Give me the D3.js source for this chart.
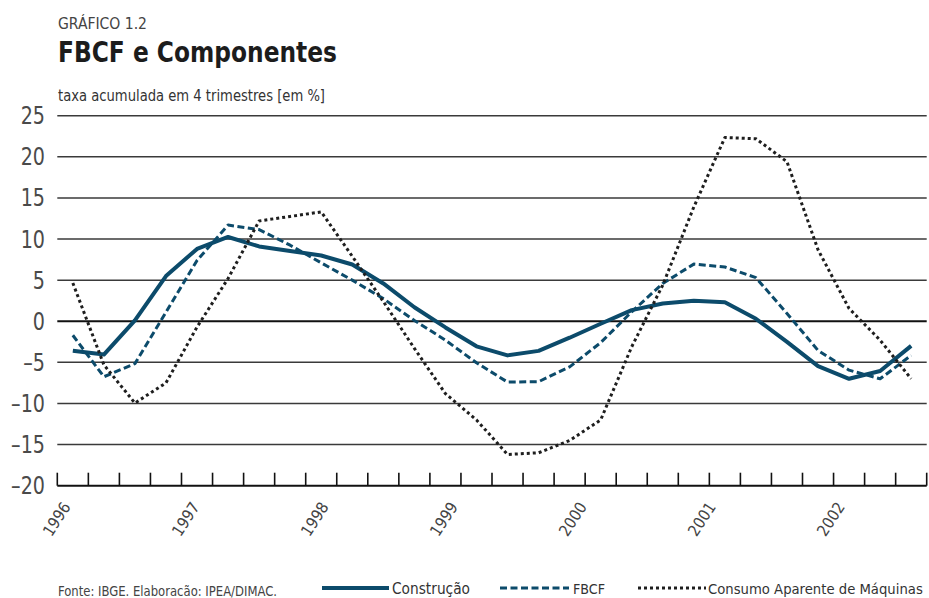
<!DOCTYPE html>
<html>
<head>
<meta charset="utf-8">
<script src="https://cdn.jsdelivr.net/npm/d3@7"></script>
<style>
body { margin: 0; background: #fff; }
svg text { font-family: "Liberation Sans Narrow", "DejaVu Sans Condensed", "Roboto", sans-serif; }
</style>
</head>
<body>
<svg id="chart" width="929" height="598"></svg>
<script>
const years = [1996, 1997, 1998, 1999, 2000, 2001, 2002]
const quarters = years.flatMap(y => ['T1', 'T2', 'T3', 'T4'].map(q => y + ' ' + q))
const yTicks = [25, 20, 15, 10, 5, 0, -5, -10, -15, -20]

const construcao = [-3.6, -4.05, 0.1, 5.5, 8.8, 10.25, 9.1, 8.55, 8.0, 6.9, 4.6, 1.7, -0.75, -3.05,
    -4.15, -3.6, -2.0, -0.3, 1.35, 2.15, 2.5, 2.3, 0.3, -2.5, -5.45, -7.0, -6.05, -3.0]
const fbcf = [-1.7, -6.75, -5.15, 1.1, 7.4, 11.7, 11.15, 9.25, 7.1, 5.0, 2.75, 0.1, -2.3, -5.05,
    -7.4, -7.35, -5.55, -2.6, 1.15, 4.6, 6.95, 6.6, 5.3, 0.95, -3.55, -5.95, -7.0, -4.15]
const consumo = [4.65, -5.3, -9.95, -7.5, -0.7, 5.2, 12.2, 12.75, 13.3, 7.9, 2.4, -3.3, -8.8, -12.0,
    -16.2, -16.0, -14.5, -12.0, -3.1, 4.4, 13.9, 22.35, 22.2, 19.4, 8.7, 1.55, -2.3, -7.0]

const seriesNames = ['Construção', 'FBCF', 'Consumo Aparente de Máquinas']

const blue = '#0c4b6b'
const styles = [
    { color: blue, width: 4, dash: null },
    { color: blue, width: 3, dash: '7,3.5' },
    { color: '#1e1e1e', width: 3, dash: '3,3' }
]

const svg = d3.select('#chart')
const plotLeft = 57.3, plotRight = 926.7, plotTop = 115.7, plotBottom = 485.7

const x = d3.scaleBand().domain(quarters).range([plotLeft, plotRight])
const y = d3.scaleLinear().domain([-20, 25]).range([plotBottom, plotTop])
const cx = i => x(quarters[i]) + x.bandwidth() / 2

function fit(sel, w) {
    sel.attr('textLength', w).attr('lengthAdjust', 'spacingAndGlyphs')
}

// shrink the font until the text is no wider than w
function fitSize(sel, w) {
    sel.each(function () {
        let fs = parseFloat(this.getAttribute('font-size'))
        let cur = this.getComputedTextLength()
        if (cur > w) this.setAttribute('font-size', fs * w / cur)
    })
}

// titles
svg.append('text').attr('x', 58).attr('y', 29).attr('font-size', 16).attr('fill', '#444')
    .text('GRÁFICO 1.2').call(fit, 89)
svg.append('text').attr('x', 58).attr('y', 62).attr('font-size', 28).attr('font-weight', 'bold')
    .attr('fill', '#1c1c1c').text('FBCF e Componentes').call(fit, 279)
svg.append('text').attr('x', 58).attr('y', 101).attr('font-size', 16).attr('fill', '#333')
    .text('taxa acumulada em 4 trimestres [em %]').call(fit, 267)

// gridlines
svg.append('g').selectAll('line').data(yTicks.filter(d => d > -20)).enter()
    .append('line')
    .attr('x1', plotLeft).attr('x2', plotRight)
    .attr('y1', d => y(d)).attr('y2', d => y(d))
    .attr('stroke', d => d === 0 ? '#111' : '#3a3a3a')
    .attr('stroke-width', d => d === 0 ? 2.2 : 1.5)

svg.append('g').selectAll('text').data(yTicks).enter()
    .append('text')
    .attr('x', 45).attr('y', d => y(d) + 8.5)
    .attr('text-anchor', 'end')
    .attr('font-size', 25).attr('fill', '#4a4a4a')
    .text(d => d < 0 ? '–' + Math.abs(d) : d)
    .each(function (d) {
        // original digits are narrower than the fallback font
        let w = this.getComputedTextLength()
        d3.select(this).call(fit, w * 0.85)
    })

// x axis
svg.append('line').attr('x1', plotLeft).attr('x2', plotRight)
    .attr('y1', y(-20)).attr('y2', y(-20))
    .attr('stroke', '#111').attr('stroke-width', 2)

let tickPos = quarters.map(q => x(q)).concat([plotRight])
svg.append('g').selectAll('line').data(tickPos).enter()
    .append('line')
    .attr('x1', d => d).attr('x2', d => d)
    .attr('y1', y(-20)).attr('y2', y(-20) - 13)
    .attr('stroke', '#111').attr('stroke-width', 1.6)

// year labels drift a little wider than 4 quarters in the original
const yearStep = 4.155 * x.step()
svg.append('g').selectAll('text').data(years).enter()
    .append('text')
    .attr('transform', (d, i) => `translate(${cx(0) - 1.5 + i * yearStep},${y(-20) + 21}) rotate(-57)`)
    .attr('text-anchor', 'end')
    .attr('font-size', 16).attr('fill', '#444')
    .text(d => d)

// series
const line = d3.line().x((d, i) => cx(i)).y(d => y(d))
const allSeries = [construcao, fbcf, consumo]
allSeries.forEach((s, k) => {
    svg.append('path').datum(s)
        .attr('d', line)
        .attr('fill', 'none')
        .attr('stroke', styles[k].color)
        .attr('stroke-width', styles[k].width)
        .attr('stroke-dasharray', styles[k].dash)
        .attr('stroke-linejoin', 'round')
})

// legend + source
svg.append('text').attr('x', 58).attr('y', 596).attr('font-size', 13.5).attr('fill', '#444')
    .text('Fonte: IBGE. Elaboracão: IPEA/DIMAC.').call(fit, 219)

const legendItems = [
    { x1: 322, x2: 389, tx: 392, tw: 78 },
    { x1: 500, x2: 569, tx: 573, tw: 32 },
    { x1: 638, x2: 706, tx: 708, tw: 215 }
]
legendItems.forEach((it, k) => {
    svg.append('line').attr('x1', it.x1).attr('x2', it.x2)
        .attr('y1', 588).attr('y2', 588)
        .attr('stroke', styles[k].color)
        .attr('stroke-width', styles[k].width)
        .attr('stroke-dasharray', styles[k].dash)
    svg.append('text').attr('x', it.tx).attr('y', 594).attr('font-size', 17).attr('fill', '#333')
        .text(seriesNames[k]).call(fitSize, it.tw)
})
</script>
</body>
</html>
